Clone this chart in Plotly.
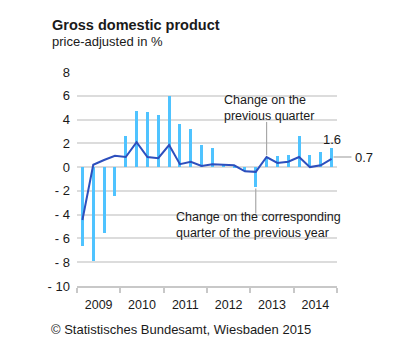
import plotly.graph_objects as go

years = ["2009", "2010", "2011", "2012", "2013", "2014"]
yoy = [-6.6, -7.9, -5.5, -2.4,
       2.6, 4.7, 4.6, 4.4,
       6.0, 3.6, 3.2, 1.85,
       1.6, 0.3, 0.1, -0.35,
       -1.7, 0.8, 0.9, 1.05,
       2.6, 1.05, 1.25, 1.6]
qoq = [-4.45, 0.2, 0.6, 0.95,
       0.85, 2.1, 0.85, 0.75,
       1.85, 0.25, 0.45, 0.1,
       0.25, 0.2, 0.15, -0.35,
       -0.4, 0.85, 0.35, 0.45,
       0.85, 0.0, 0.15, 0.7]
yticks = list(range(-10, 9, 2))
ytext = [("- " + str(-v)) if v < 0 else str(v) for v in yticks]

n = len(yoy)
xq = list(range(n))
year_centers = [i * 4 + 1.5 for i in range(len(years))]
year_bounds = [i * 4 - 0.5 for i in range(len(years) + 1)]

FONT = "Liberation Sans, Arial, sans-serif"
BAR = "#4fc3ff"
LINE = "#2d4fbd"
GRID = "#dcdcdc"

fig = go.Figure()
fig.add_trace(go.Bar(x=xq, y=yoy, width=0.27, marker=dict(color=BAR, line=dict(width=0)),
                     showlegend=False, hoverinfo="skip"))
fig.add_trace(go.Scatter(x=xq, y=qoq, mode="lines", line=dict(color=LINE, width=2),
                         showlegend=False, hoverinfo="skip"))

fig.update_layout(
    width=420, height=353,
    margin=dict(l=76.5, r=82.5, t=72, b=67),
    paper_bgcolor="white", plot_bgcolor="white",
    font=dict(family=FONT, size=13, color="#1a1a1a"),
    bargap=0,
    xaxis=dict(
        range=[-0.5, n - 0.5], tickmode="array", tickvals=year_centers, ticktext=years,
        ticks="", showgrid=False, zeroline=False, showline=True, linecolor="#c8c8c8",
        linewidth=1.5, tickfont=dict(size=12.5), ticklabelstandoff=6,
        minor=dict(tickmode="array", tickvals=year_bounds, ticks="outside", ticklen=5,
                   tickcolor="#c8c8c8", tickwidth=1.5, showgrid=False),
    ),
    yaxis=dict(
        range=[-10, 8], tickmode="array", tickvals=yticks, ticktext=ytext,
        showgrid=True, gridcolor=GRID, gridwidth=1.5, zeroline=False, showline=False,
        ticks="", ticklabelstandoff=6, tickfont=dict(size=13),
    ),
)

def px2paper_y(py):
    return (286 - py) / 214.0

def px2paper_x(px):
    return (px - 76.5) / 261.0

annos = [
    dict(text="<b>Gross domestic product</b>", x=px2paper_x(49), y=px2paper_y(25), font=dict(size=14.5, color="#1a1a1a")),
    dict(text="price-adjusted in %", x=px2paper_x(49), y=px2paper_y(41.5), font=dict(size=13)),
    dict(text="© Statistisches Bundesamt, Wiesbaden 2015", x=px2paper_x(48), y=px2paper_y(329), font=dict(size=13)),
    dict(text="0.7", x=px2paper_x(354), y=px2paper_y(157), font=dict(size=13)),
]
for a in annos:
    fig.add_annotation(xref="paper", yref="paper", xanchor="left", yanchor="middle",
                       showarrow=False, align="left", **a)

fig.add_annotation(xref="x", yref="y", x=12.84, y=4.97, xanchor="left", yanchor="middle",
                   text="Change on the<br>previous quarter", showarrow=False, align="left",
                   font=dict(size=12.5))
fig.add_annotation(xref="x", yref="y", x=8.46, y=-4.9, xanchor="left", yanchor="middle",
                   text="Change on the corresponding<br>quarter of the previous year",
                   showarrow=False, align="left", font=dict(size=12.5))
fig.add_annotation(xref="x", yref="y", x=n - 1, y=2.36, xanchor="center", yanchor="middle",
                   text="1.6", showarrow=False, font=dict(size=13))

fig.add_shape(type="line", xref="x", yref="y", x0=17, x1=17, y0=1.0, y1=3.8,
              line=dict(color="#a8a8a8", width=1.2))
fig.add_shape(type="line", xref="x", yref="y", x0=16, x1=16, y0=-1.8, y1=-3.9,
              line=dict(color="#a8a8a8", width=1.2))
fig.add_shape(type="line", xref="paper", yref="paper", x0=px2paper_x(334), x1=px2paper_x(352),
              y0=px2paper_y(157), y1=px2paper_y(157), line=dict(color="#a8a8a8", width=1.2))

fig.write_html("out.html")
